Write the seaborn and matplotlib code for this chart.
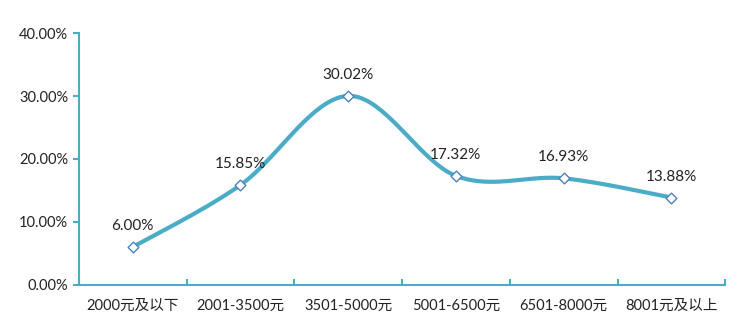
import numpy as np
import pandas as pd
import matplotlib
matplotlib.use("Agg")
import matplotlib.pyplot as plt
import seaborn as sns
from matplotlib.ticker import FuncFormatter, MultipleLocator, FixedLocator

categories = ["2000元及以下", "2001-3500元", "3501-5000元", "5001-6500元", "6501-8000元", "8001元及以上"]
values = [6.00, 15.85, 30.02, 17.32, 16.93, 13.88]
labels = ["6.00%", "15.85%", "30.02%", "17.32%", "16.93%", "13.88%"]

sns.set_style("white")
plt.rcParams['font.family'] = ['Lato', 'Noto Sans CJK SC', 'DejaVu Sans']

teal = "#4BACC6"

fig = plt.figure(figsize=(7.5, 3.34), dpi=100)
ax = fig.add_axes([0.105, 0.147, 0.862, 0.754])

# Excel-like smoothing (Catmull-Rom Bezier)
x = np.arange(len(values), dtype=float)
y = np.array(values, dtype=float)
px = np.concatenate([[x[0]], x, [x[-1]]])
py = np.concatenate([[y[0]], y, [y[-1]]])
xs, ys = [], []
t = np.linspace(0, 1, 40)
for i in range(1, len(px) - 2):
    p0 = np.array([px[i], py[i]]); p3 = np.array([px[i + 1], py[i + 1]])
    c1 = p0 + (np.array([px[i + 1], py[i + 1]]) - np.array([px[i - 1], py[i - 1]])) / 6
    c2 = p3 - (np.array([px[i + 2], py[i + 2]]) - np.array([px[i], py[i]])) / 6
    bx = (1 - t) ** 3 * p0[0] + 3 * (1 - t) ** 2 * t * c1[0] + 3 * (1 - t) * t ** 2 * c2[0] + t ** 3 * p3[0]
    by = (1 - t) ** 3 * p0[1] + 3 * (1 - t) ** 2 * t * c1[1] + 3 * (1 - t) * t ** 2 * c2[1] + t ** 3 * p3[1]
    xs.append(bx); ys.append(by)
smooth = pd.DataFrame({"x": np.concatenate(xs), "y": np.concatenate(ys)})
ax.plot(smooth["x"], smooth["y"], color=teal, lw=3, solid_capstyle="round", zorder=2)

df = pd.DataFrame({"x": x, "y": y})
sns.scatterplot(data=df, x="x", y="y", marker="D", s=30, color="white",
                edgecolor="#4F81BD", linewidth=1, ax=ax, zorder=3)

for xi, yi, lab in zip(x, y, labels):
    ax.annotate(lab, (xi, yi), xytext=(0, 15), textcoords="offset points",
                ha="center", va="center", fontsize=11, color="#222222")

ax.set_xlim(-0.5, len(categories) - 0.5)
ax.set_ylim(0, 40)
ax.yaxis.set_major_locator(MultipleLocator(10))
ax.yaxis.set_major_formatter(FuncFormatter(lambda v, p: f"{v:.2f}%"))
ax.set_xticks(x)
ax.set_xticklabels(categories)
ax.xaxis.set_minor_locator(FixedLocator(np.arange(-0.5, len(categories), 1.0)))
ax.tick_params(axis="x", which="major", length=0, pad=10, labelsize=10.5, colors="#222222")
ax.tick_params(axis="x", which="minor", length=4, direction="in", color=teal, width=1.5, bottom=True)
ax.tick_params(axis="y", which="major", length=4, direction="out", color=teal, width=1.5, labelsize=10.5, labelcolor="#222222", left=True)
ax.set_xlabel("")
ax.set_ylabel("")
for s in ["top", "right"]:
    ax.spines[s].set_visible(False)
for s in ["left", "bottom"]:
    ax.spines[s].set_color(teal)
    ax.spines[s].set_linewidth(1.5)

fig.savefig("out.png", dpi=100)
